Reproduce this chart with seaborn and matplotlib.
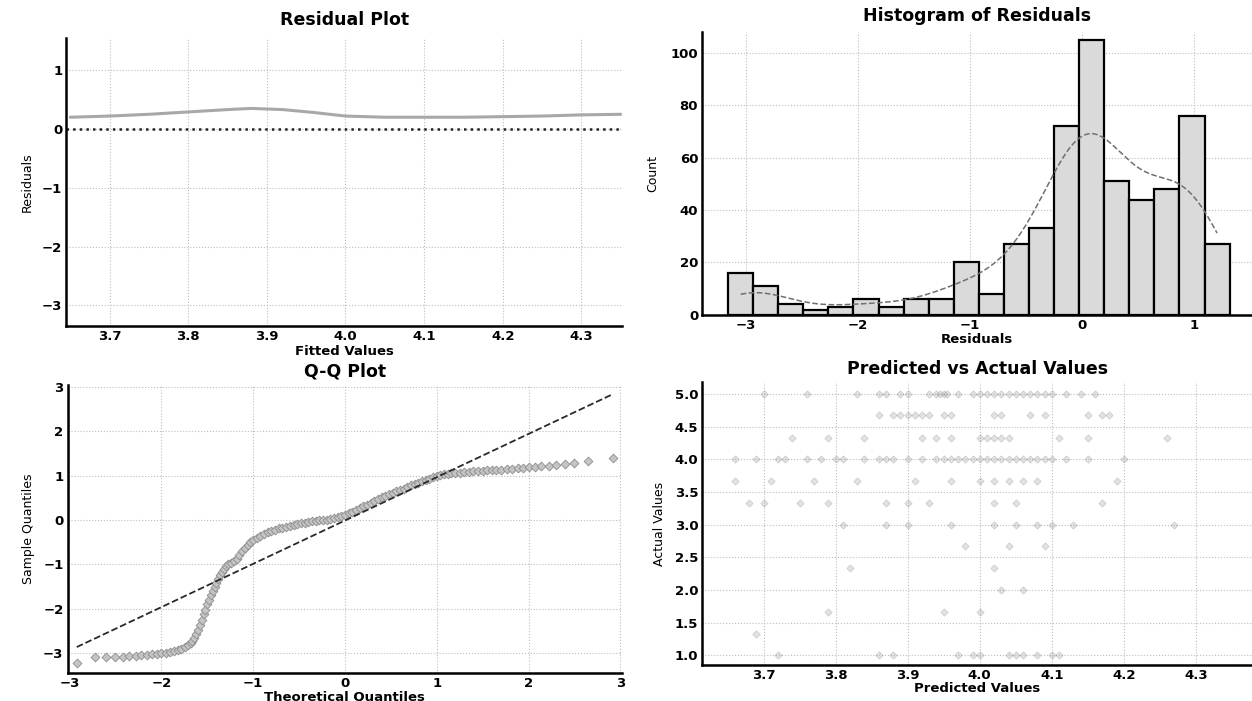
import seaborn as sns
import matplotlib.pyplot as plt
import pandas as pd
import numpy as np

# Residual plot: lowess trend of residuals vs fitted values
fitted_grid = [3.65, 3.70, 3.75, 3.80, 3.85, 3.88, 3.92, 3.96, 4.00, 4.05, 4.10, 4.15, 4.20, 4.25, 4.30, 4.35]
lowess_resid = [0.20, 0.22, 0.25, 0.29, 0.33, 0.35, 0.33, 0.28, 0.22, 0.20, 0.20, 0.20, 0.21, 0.22, 0.24, 0.25]

# Histogram of residuals (20 bins)
bin_edges_start = -3.16
bin_width = 0.224
hist_counts = [16, 11, 4, 2, 3, 6, 3, 6, 6, 20, 8, 27, 33, 72, 105, 51, 44, 48, 76, 27]

# Q-Q plot: theoretical vs sample quantiles
qq_theory = [-2.92, -2.72, -2.60, -2.50, -2.42, -2.35, -2.28, -2.22, -2.16, -2.10, -2.05, -2.00, -1.95,
             -1.90, -1.86, -1.82, -1.78,
             -1.74, -1.71, -1.68, -1.66, -1.64, -1.62, -1.60, -1.58, -1.56, -1.54, -1.52, -1.50, -1.48,
             -1.46, -1.44, -1.42, -1.40, -1.38, -1.36, -1.34, -1.32, -1.30,
             -1.27, -1.24, -1.21, -1.18, -1.15, -1.12, -1.09, -1.06, -1.03, -1.00, -0.96, -0.92, -0.88,
             -0.84, -0.80,
             -0.76, -0.72, -0.68, -0.64, -0.60, -0.56, -0.52, -0.48, -0.44, -0.40, -0.36, -0.32, -0.28,
             -0.24, -0.20, -0.16, -0.12, -0.08, -0.04,
             0.00, 0.04, 0.08, 0.12, 0.16, 0.20, 0.24, 0.28, 0.32, 0.36, 0.40, 0.44, 0.48, 0.52, 0.56,
             0.60, 0.64, 0.68, 0.72, 0.76, 0.80, 0.84, 0.88, 0.92, 0.96, 1.00, 1.04,
             1.08, 1.12, 1.16, 1.20, 1.25, 1.30, 1.35, 1.40, 1.45, 1.50, 1.55, 1.60, 1.65, 1.70, 1.76,
             1.82, 1.88, 1.94, 2.00, 2.07, 2.14, 2.22, 2.30, 2.40, 2.50, 2.65, 2.92]
qq_sample = [-3.22, -3.10, -3.10, -3.09, -3.08, -3.07, -3.06, -3.05, -3.04, -3.03, -3.02, -3.00, -2.99,
             -2.98, -2.96, -2.94, -2.91,
             -2.87, -2.83, -2.78, -2.72, -2.65, -2.56, -2.47, -2.36, -2.25, -2.13, -2.02, -1.90, -1.80,
             -1.70, -1.60, -1.50, -1.42, -1.33, -1.25, -1.17, -1.10, -1.03,
             -0.99, -0.96, -0.93, -0.88, -0.80, -0.70, -0.62, -0.56, -0.50, -0.46, -0.41, -0.36, -0.32,
             -0.28, -0.25,
             -0.22, -0.19, -0.17, -0.15, -0.13, -0.11, -0.09, -0.07, -0.06, -0.04, -0.03, -0.02, -0.01,
             0.00, 0.01, 0.02, 0.04, 0.06, 0.09,
             0.12, 0.15, 0.19, 0.23, 0.27, 0.31, 0.35, 0.39, 0.43, 0.47, 0.51, 0.54, 0.58, 0.61, 0.65,
             0.68, 0.71, 0.74, 0.78, 0.81, 0.84, 0.87, 0.90, 0.93, 0.96, 0.99, 1.01,
             1.03, 1.04, 1.05, 1.06, 1.07, 1.08, 1.09, 1.10, 1.10, 1.11, 1.12, 1.13, 1.13, 1.14, 1.15,
             1.16, 1.17, 1.18, 1.19, 1.20, 1.21, 1.23, 1.25, 1.27, 1.29, 1.33, 1.40]

# Predicted vs actual: predicted values grouped by actual rating
pred_by_actual = {
    5.00: [3.70, 3.76, 3.83, 3.86, 3.87, 3.89, 3.90, 3.93, 3.94, 3.945, 3.95, 3.955, 3.97, 3.99, 4.00,
           4.01, 4.02, 4.03, 4.04, 4.05, 4.06, 4.07, 4.08, 4.09, 4.10, 4.12, 4.14, 4.16],
    4.67: [3.86, 3.88, 3.89, 3.90, 3.91, 3.92, 3.93, 3.95, 3.96, 4.02, 4.03, 4.07, 4.09, 4.15, 4.17, 4.18],
    4.33: [3.74, 3.79, 3.84, 3.92, 3.94, 3.96, 4.00, 4.01, 4.02, 4.03, 4.04, 4.11, 4.15, 4.26],
    4.00: [3.66, 3.69, 3.72, 3.73, 3.76, 3.78, 3.80, 3.81, 3.84, 3.86, 3.87, 3.88, 3.90, 3.92, 3.94,
           3.95, 3.96, 3.97, 3.98, 3.99, 4.00, 4.01, 4.02, 4.03, 4.04, 4.05, 4.06, 4.07, 4.08, 4.09,
           4.10, 4.12, 4.15, 4.20],
    3.67: [3.66, 3.71, 3.77, 3.83, 3.91, 3.96, 4.00, 4.02, 4.04, 4.06, 4.08, 4.19],
    3.33: [3.68, 3.70, 3.75, 3.79, 3.87, 3.90, 3.93, 4.02, 4.05, 4.17],
    3.00: [3.81, 3.87, 3.90, 3.96, 4.02, 4.05, 4.08, 4.10, 4.13, 4.27],
    2.67: [3.98, 4.04, 4.09],
    2.33: [3.82, 4.02],
    2.00: [4.03, 4.06],
    1.67: [3.79, 3.95, 4.00],
    1.33: [3.69],
    1.00: [3.72, 3.86, 3.88, 3.97, 3.99, 4.00, 4.04, 4.05, 4.06, 4.08, 4.10, 4.11],
}

resid_df = pd.DataFrame({"Fitted": fitted_grid, "Residual": lowess_resid})
edges = bin_edges_start + bin_width * np.arange(len(hist_counts) + 1)
centers = (edges[:-1] + edges[1:]) / 2
hist_df = pd.DataFrame({"Residual": centers, "Count": hist_counts})
qq_df = pd.DataFrame({"Theoretical": qq_theory, "Sample": qq_sample})
pa_rows = [(p, a) for a, preds in pred_by_actual.items() for p in preds]
pa_df = pd.DataFrame(pa_rows, columns=["Predicted", "Actual"])

sns.set_style("whitegrid", {"grid.linestyle": ":", "grid.color": "#bdbdbd",
                            "axes.edgecolor": "black", "text.color": "black",
                            "axes.labelcolor": "black", "xtick.color": "black",
                            "ytick.color": "black"})
plt.rcParams["font.family"] = ["DejaVu Sans"]
plt.rcParams["font.weight"] = "bold"

fig, axes = plt.subplots(2, 2, figsize=(12.52, 7.01), dpi=100)
(ax1, ax2), (ax3, ax4) = axes
ax1.set_position([0.053, 0.535, 0.444, 0.411])
ax2.set_position([0.561, 0.551, 0.439, 0.403])
ax3.set_position([0.054, 0.040, 0.443, 0.411])
ax4.set_position([0.561, 0.051, 0.439, 0.404])

# Residual plot
sns.lineplot(data=resid_df, x="Fitted", y="Residual", ax=ax1, color="#a8a8a8", linewidth=2.2)
ax1.axhline(0, color="#222222", linestyle=":", linewidth=1.8)
ax1.set_xlim(3.645, 4.352)
ax1.set_ylim(-3.35, 1.55)
ax1.set_xticks([3.7, 3.8, 3.9, 4.0, 4.1, 4.2, 4.3])
ax1.set_yticks([-3, -2, -1, 0, 1])
ax1.set_title("Residual Plot", fontsize=12.5, fontweight="bold", pad=9)
ax1.set_xlabel("Fitted Values", fontsize=9.5, fontweight="bold", labelpad=1)
ax1.set_ylabel("Residuals", fontsize=9, labelpad=6)

# Histogram with KDE
sns.histplot(data=hist_df, x="Residual", weights="Count", bins=list(edges), kde=True, ax=ax2,
             color="#dadada", edgecolor="black", linewidth=1.6, alpha=1,
             kde_kws={"bw_adjust": 0.45},
             line_kws={"linestyle": "--", "linewidth": 1.1})
for ln in ax2.lines:
    ln.set_color("#707070")
ax2.set_xlim(-3.39, 1.52)
ax2.set_ylim(0, 108)
ax2.set_xticks([-3, -2, -1, 0, 1])
ax2.set_yticks([0, 20, 40, 60, 80, 100])
ax2.set_title("Histogram of Residuals", fontsize=12.5, fontweight="bold", pad=8)
ax2.set_xlabel("Residuals", fontsize=9.5, fontweight="bold", labelpad=1)
ax2.set_ylabel("Count", fontsize=9, labelpad=8)

# Q-Q plot with reference line (mean + std * z)
w = np.array(hist_counts, dtype=float)
mu = np.average(centers, weights=w)
sd = np.sqrt(np.average((centers - mu) ** 2, weights=w))
qq_df["Line"] = mu + sd * qq_df["Theoretical"]
sns.scatterplot(data=qq_df, x="Theoretical", y="Sample", ax=ax3, color="#c4c4c4",
                edgecolor="#8c8c8c", linewidth=0.6, s=20, marker="D", zorder=3)
sns.lineplot(data=qq_df, x="Theoretical", y="Line", ax=ax3, color="#2a2a2a",
             linestyle="--", linewidth=1.3, zorder=4)
ax3.set_xlim(-3.02, 3.02)
ax3.set_ylim(-3.45, 3.05)
ax3.set_xticks([-3, -2, -1, 0, 1, 2, 3])
ax3.set_yticks([-3, -2, -1, 0, 1, 2, 3])
ax3.set_title("Q-Q Plot", fontsize=12.5, fontweight="bold", pad=6)
ax3.set_xlabel("Theoretical Quantiles", fontsize=9.5, fontweight="bold", labelpad=0)
ax3.set_ylabel("Sample Quantiles", fontsize=9, labelpad=6)

# Predicted vs actual
sns.scatterplot(data=pa_df, x="Predicted", y="Actual", ax=ax4, color="#a0a0a0",
                edgecolor="#707070", linewidth=0.5, s=14, marker="D", alpha=0.3)
ax4.set_xlim(3.615, 4.378)
ax4.set_ylim(0.85, 5.18)
ax4.set_xticks([3.7, 3.8, 3.9, 4.0, 4.1, 4.2, 4.3])
ax4.set_yticks([1.0, 1.5, 2.0, 2.5, 3.0, 3.5, 4.0, 4.5, 5.0])
ax4.set_title("Predicted vs Actual Values", fontsize=12.5, fontweight="bold", pad=6)
ax4.set_xlabel("Predicted Values", fontsize=9.5, fontweight="bold", labelpad=0)
ax4.set_ylabel("Actual Values", fontsize=9, labelpad=6)

for ax in (ax1, ax2, ax3, ax4):
    sns.despine(ax=ax)
    for side in ("left", "bottom"):
        ax.spines[side].set_linewidth(1.8)
        ax.spines[side].set_color("black")
    ax.tick_params(axis="both", labelsize=9.5, length=3, direction="in", width=1.2, pad=3)
    for lab in ax.get_xticklabels() + ax.get_yticklabels():
        lab.set_fontweight("bold")

plt.savefig("out.png", dpi=100)
